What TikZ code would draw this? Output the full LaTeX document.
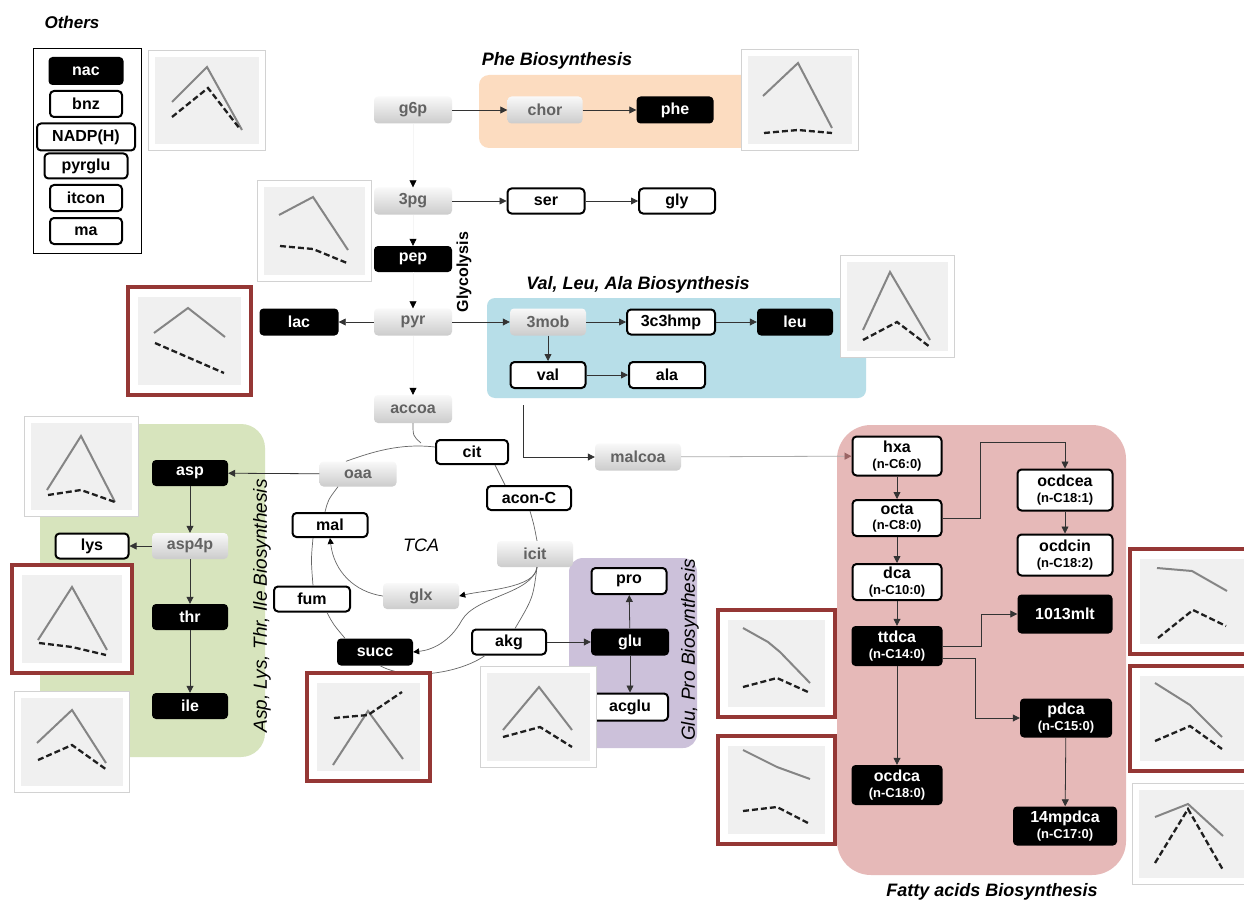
\documentclass[tikz,border=0pt]{standalone}
\usepackage{fontspec}
\setmainfont{Liberation Sans}
\usetikzlibrary{arrows.meta,calc}
\definecolor{phebg}{HTML}{FCDCC0}
\definecolor{valbg}{HTML}{B7DEE8}
\definecolor{aspbg}{HTML}{D7E4BD}
\definecolor{glubg}{HTML}{CCC1DA}
\definecolor{fabg}{HTML}{E6B9B8}
\definecolor{plotbg}{HTML}{F0F0F0}
\definecolor{plotred}{HTML}{953735}
\definecolor{graytxt}{HTML}{626262}
\definecolor{fatip}{HTML}{9A6464}
\tikzset{
  mnode/.style={rounded corners=4pt, minimum height=27pt, inner sep=1pt, align=center,
    font=\fontsize{16}{16.5}\selectfont\bfseries},
  gnode/.style={mnode, top color=gray!5, bottom color=gray!40, text=graytxt},
  bnode/.style={mnode, fill=black, text=white},
  wnode/.style={mnode, fill=white, draw=black, line width=2pt},
  conn/.style={line width=0.8pt, draw=black!80, -{Triangle[length=7pt,width=7pt]}},
  gconn/.style={line width=0.6pt, draw=gray!8, -{Triangle[length=7pt,width=7pt,black]}},
  tcal/.style={line width=0.7pt, draw=black!60},
  tcaa/.style={tcal, -{Triangle[length=6pt,width=6pt,black]}},
  sline/.style={line width=2pt, draw=black!48},
  dline/.style={line width=2.3pt, draw=black!88, dash pattern=on 6pt off 3pt},
  titlebi/.style={font=\fontsize{18}{20}\selectfont\bfseries\itshape},
  titlei/.style={font=\fontsize{19}{21}\selectfont\itshape},
}
\newcommand\grayplot[4]{%
  \draw[draw=gray!35, line width=1.2pt, fill=white] (#1+0.6,#2+0.6) rectangle (#3-0.6,#4-0.6);
  \fill[plotbg] (#1+7,#2+7) rectangle (#3-7,#4-7);}
\newcommand\redplot[4]{%
  \draw[draw=plotred, line width=4pt, fill=white] (#1+2,#2+2) rectangle (#3-2,#4-2);
  \fill[plotbg] (#1+12,#2+12) rectangle (#3-12,#4-12);}
\begin{document}
\begin{tikzpicture}[x=1pt,y=-1pt]
\useasboundingbox (0,0) rectangle (1244,904);
\clip (0,0) rectangle (1244,904);
\fill[white] (0,0) rectangle (1244,904);

% ---------- background regions
\fill[phebg, rounded corners=10pt] (479,75) rectangle (760,148);
\fill[valbg, rounded corners=8pt] (487,298) rectangle (866,398);
\fill[aspbg, rounded corners=24pt] (40,424) rectangle (265,757);
\fill[glubg, rounded corners=14pt] (569,558) rectangle (697,748);
\fill[fabg, rounded corners=34pt] (837,425) rectangle (1126,875);

% ---------- titles
\node[font=\fontsize{17}{20}\selectfont\bfseries\itshape] (tothers) at (72,22) {Others};
\node[titlebi] (tphe) at (557,61) {Phe Biosynthesis};
\node[titlebi] (tval) at (638,285) {Val, Leu, Ala Biosynthesis};
\node[titlebi] (tfa) at (992,892) {Fatty acids Biosynthesis};
\node[font=\fontsize{16}{18}\selectfont\bfseries, rotate=90] (tgly) at (464,272) {Glycolysis};
\node[titlei, rotate=90] (tasp) at (262,606) {Asp, Lys, Thr, Ile Biosynthesis};
\node[titlei, rotate=90] (tglu) at (690,650) {Glu, Pro Biosynthesis};
\node[font=\fontsize{18}{20}\selectfont\itshape] (ttca) at (421,545) {TCA};

% ---------- legend (Others)
\draw[line width=1pt] (33,49) rectangle (141,253);
\node[bnode, minimum width=75pt, minimum height=28pt] (nac) at (86,71) {nac};
\node[wnode, minimum width=72pt, minimum height=26pt] (bnz) at (86,104) {bnz};
\node[wnode, minimum width=98pt, minimum height=27pt] (nadph) at (86,137) {NADP(H)};
\node[wnode, minimum width=83pt, minimum height=25pt] (pyrglu) at (86,166) {pyrglu};
\node[wnode, minimum width=72pt, minimum height=26pt] (itcon) at (86,198) {itcon};
\node[wnode, minimum width=72pt, minimum height=26pt] (ma) at (86,231) {ma};

% ---------- glycolysis / phe / ser
\node[gnode, minimum width=78pt] (g6p) at (413,110) {g6p};
\node[gnode, minimum width=75pt] (chor) at (545,110) {chor};
\node[bnode, minimum width=77pt] (phe) at (675,110) {phe};
\node[gnode, minimum width=78pt] (tpg) at (413,201) {3pg};
\node[wnode, minimum width=77pt, minimum height=25pt] (ser) at (546,201) {ser};
\node[wnode, minimum width=76pt, minimum height=25pt] (gly) at (677,201) {gly};
\node[bnode, minimum width=78pt, minimum height=26pt] (pep) at (413,259) {pep};
\node[gnode, minimum width=78pt] (pyr) at (413,322) {pyr};
\node[bnode, minimum width=79pt] (lac) at (299,322) {lac};
\node[gnode, minimum width=78pt, minimum height=28pt] (accoa) at (413,409) {accoa};

% ---------- val / leu / ala
\node[gnode, minimum width=76pt] (mob) at (548,322) {3mob};
\node[wnode, minimum width=88pt, minimum height=25pt] (hmp) at (671,322) {3c3hmp};
\node[bnode, minimum width=76pt] (leu) at (795,322) {leu};
\node[wnode, minimum width=75pt, minimum height=26pt] (val) at (548,375) {val};
\node[wnode, minimum width=76pt, minimum height=26pt] (ala) at (667,375) {ala};
\node[gnode, minimum width=86pt] (malcoa) at (638,457) {malcoa};
\coordinate (mstart) at (523,405);

% ---------- TCA
\node[wnode, minimum width=72pt, minimum height=24pt] (cit) at (472,452) {cit};
\node[gnode, minimum width=77pt, minimum height=25pt] (oaa) at (358,474) {oaa};
\node[wnode, minimum width=84pt, minimum height=24pt] (acon) at (529,498) {acon-C};
\node[wnode, minimum width=75pt, minimum height=24pt] (mal) at (330,525) {mal};
\node[gnode, minimum width=76pt, minimum height=26pt] (icit) at (535,554) {icit};
\node[gnode, minimum width=76pt, minimum height=26pt] (glx) at (421,596) {glx};
\node[wnode, minimum width=76pt, minimum height=25pt] (fum) at (312,599) {fum};
\node[bnode, minimum width=76pt] (succ) at (375,652) {succ};
\node[wnode, minimum width=74pt, minimum height=25pt] (akg) at (509,642) {akg};

% ---------- glu / pro
\node[wnode, minimum width=75pt, minimum height=26pt] (pro) at (629,581) {pro};
\node[bnode, minimum width=78pt] (glu) at (630,642) {glu};
\node[wnode, minimum width=76pt, minimum height=27pt] (acglu) at (630,707) {acglu};

% ---------- asp / lys / thr / ile
\node[bnode, minimum width=76pt, minimum height=26pt] (asp) at (190,473) {asp};
\node[gnode, minimum width=76pt, minimum height=26pt] (aspp) at (190,546) {asp4p};
\node[wnode, minimum width=73pt, minimum height=25pt] (lys) at (92,546) {lys};
\node[bnode, minimum width=76pt, minimum height=26pt] (thr) at (190,617) {thr};
\node[bnode, minimum width=76pt, minimum height=26pt] (ile) at (190,706) {ile};

% ---------- fatty acids
\node[wnode, minimum width=89pt, minimum height=39pt] (hxa) at (897,456) {hxa\\[-1pt]{\fontsize{13}{14}\selectfont (n-C6:0)}};
\node[wnode, minimum width=89pt, minimum height=36pt] (octa) at (897,518) {octa\\[-1pt]{\fontsize{13}{14}\selectfont (n-C8:0)}};
\node[wnode, minimum width=89pt, minimum height=36pt] (dca) at (897,582) {dca\\[-1pt]{\fontsize{13}{14}\selectfont (n-C10:0)}};
\node[bnode, minimum width=91pt, minimum height=40pt] (ttdca) at (897,646) {ttdca\\[-1pt]{\fontsize{13}{14}\selectfont (n-C14:0)}};
\node[bnode, minimum width=91pt, minimum height=40pt] (ocdca) at (897,785) {ocdca\\[-1pt]{\fontsize{13}{14}\selectfont (n-C18:0)}};
\node[wnode, minimum width=95pt, minimum height=41pt] (ocdcea) at (1065,490) {ocdcea\\[-1pt]{\fontsize{13}{14}\selectfont (n-C18:1)}};
\node[wnode, minimum width=95pt, minimum height=41pt] (ocdcin) at (1065,555) {ocdcin\\[-1pt]{\fontsize{13}{14}\selectfont (n-C18:2)}};
\node[bnode, minimum width=95pt, minimum height=39pt] (mlt) at (1065,614) {1013mlt};
\node[bnode, minimum width=92pt, minimum height=39pt] (pdca) at (1066,718) {pdca\\[-1pt]{\fontsize{13}{14}\selectfont (n-C15:0)}};
\node[bnode, minimum width=104pt, minimum height=39pt] (mpdca) at (1065,826) {14mpdca\\[-1pt]{\fontsize{13}{14}\selectfont (n-C17:0)}};

% ---------- connectors
\draw[gconn] (g6p) -- (tpg);
\draw[gconn] (tpg) -- (pep);
\draw[gconn] (pep) -- (pyr);
\draw[gconn] (pyr) -- (accoa);
\draw[conn] (g6p) -- (chor);
\draw[conn] (chor) -- (phe);
\draw[conn] (tpg) -- (ser);
\draw[conn] (ser) -- (gly);
\draw[conn] (pyr) -- (lac);
\draw[conn] (pyr) -- (mob);
\draw[conn] (mob) -- (hmp);
\draw[conn] (hmp) -- (leu);
\draw[conn] (mob) -- (val);
\draw[conn] (val) -- (ala);
\draw[conn] (mstart) |- (malcoa);
\draw[line width=0.8pt, draw=gray!65, -{Triangle[length=7pt,width=7pt,fatip]}] (malcoa) -- (hxa);

\draw[conn] (hxa) -- (octa);
\draw[conn] (octa) -- (dca);
\draw[conn] (dca) -- (ttdca);
\draw[conn] (ttdca) -- (ocdca);
\draw[conn] (octa.east) -| (980,442) -| (ocdcea.north);
\draw[conn] (ocdcea) -- (ocdcin);
\draw[conn] (ttdca.east) -- (981,646) |- (mlt.west);
\draw[conn] ([yshift=-12pt]ttdca.east) -- (975,658) |- (pdca.west);
\draw[conn] (pdca) -- (mpdca);

\draw[conn] (oaa) -- (asp);
\draw[conn] (asp) -- (aspp);
\draw[conn] (aspp) -- (lys);
\draw[conn] (aspp) -- (thr);
\draw[conn] (thr) -- (ile);

\draw[conn] (akg) -- (glu);
\draw[conn] (glu) -- (pro);
\draw[conn] (glu) -- (acglu);

% TCA cycle curves
\draw[tcal] (accoa.south) .. controls (413,436) .. (421,443);
\draw[tcal] ([xshift=-12pt]oaa.north) .. controls (372,452) and (400,443) .. ([yshift=5pt]cit.west);
\draw[tcal] ([xshift=23pt]cit.south) -- ([xshift=-24pt]acon.north);
\draw[tcal] ([xshift=1pt]acon.south) .. controls (534,525) .. ([xshift=2pt]icit.north);
\draw[tcal] ([xshift=2pt]icit.south) .. controls (533,598) .. ([xshift=6pt]akg.north);
\draw[tcaa] ([xshift=2pt]icit.south) .. controls (536,588) and (485,590) .. (glx.east);
\draw[tcaa] ([xshift=2pt]icit.south) .. controls (532,594) and (476,596) .. (462,620) .. controls (450,642) and (432,650) .. (succ.east);
\draw[tcaa] (glx.west) .. controls (355,592) and (334,572) .. (mal.south);
\draw[tcal] ([xshift=-5pt]mal.north) .. controls (328,500) .. ([xshift=-20pt]oaa.south);
\draw[tcal] ([xshift=1pt]fum.north) .. controls (311,560) .. ([xshift=-17pt]mal.south);
\draw[tcal] ([xshift=15pt]fum.south) .. controls (333,624) .. ([xshift=-30pt]succ.north);
\draw[tcal] ([xshift=-24pt]akg.south) .. controls (462,672) and (410,682) .. ([xshift=5pt]succ.south);

% ---------- profile plots
\grayplot{148}{50}{266}{151}
\draw[sline] (172,102) -- (207,67) -- (242,130);
\draw[dline] (172,117) -- (208,88) -- (240,129);

\grayplot{257}{180}{372}{282}
\draw[sline] (279,215) -- (313,197) -- (348,250);
\draw[dline] (280,246) -- (313,249) -- (347,263);

\redplot{126}{285}{253}{397}
\draw[sline] (154,333) -- (188,308) -- (225,337);
\draw[dline] (155,343) -- (224,373);

\grayplot{741}{49}{859}{151}
\draw[sline] (763,96) -- (798,63) -- (832,128);
\draw[dline] (764,133) -- (798,130) -- (832,133);

\grayplot{840}{255}{955}{358}
\draw[sline] (863,330) -- (890,272) -- (930,340);
\draw[dline] (863,340) -- (897,322) -- (930,347);

\grayplot{24}{416}{139}{517}
\draw[sline] (47,490) -- (81,436) -- (115,502);
\draw[dline] (48,495) -- (81,490) -- (115,502);

\redplot{10}{563}{134}{675}
\draw[sline] (38,640) -- (72,587) -- (107,650);
\draw[dline] (39,643) -- (72,647) -- (106,655);

\grayplot{14}{691}{130}{793}
\draw[sline] (37,743) -- (72,710) -- (106,763);
\draw[dline] (38,760) -- (72,745) -- (107,770);

\redplot{305}{671}{432}{783}
\draw[sline] (333,765) -- (368,711) -- (403,759);
\draw[dline] (334,718) -- (368,715) -- (402,692);

\grayplot{480}{666}{597}{768}
\draw[sline] (503,730) -- (539,687) -- (572,730);
\draw[dline] (503,737) -- (540,727) -- (572,747);

\redplot{716}{608}{837}{719}
\draw[sline] (743,628) -- (768,642) -- (780,652) -- (810,683);
\draw[dline] (743,687) -- (777,678) -- (808,692);

\redplot{716}{734}{837}{846}
\draw[sline] (743,750) -- (777,767) -- (810,779);
\draw[dline] (743,811) -- (777,807) -- (808,823);

\redplot{1128}{547}{1262}{656}
\draw[sline] (1157,568) -- (1192,571) -- (1227,591);
\draw[dline] (1158,638) -- (1193,610) -- (1226,626);

\redplot{1128}{664}{1262}{773}
\draw[sline] (1155,683) -- (1190,705) -- (1222,737);
\draw[dline] (1155,741) -- (1190,726) -- (1222,749);

\grayplot{1132}{783}{1262}{885}
\draw[sline] (1155,817) -- (1188,804) -- (1223,836);
\draw[dline] (1155,863) -- (1188,809) -- (1223,870);
\end{tikzpicture}
\end{document}
